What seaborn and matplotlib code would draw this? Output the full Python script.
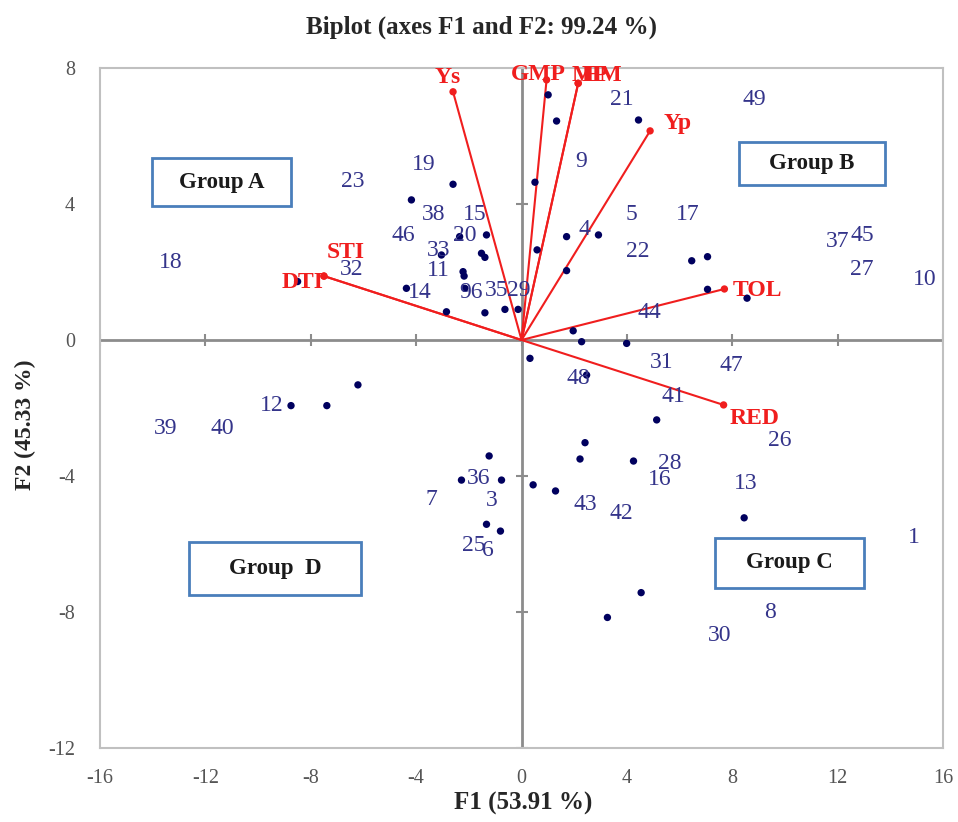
import numpy as np
import pandas as pd
import matplotlib.pyplot as plt
import seaborn as sns
from matplotlib.patches import Rectangle

# observation scores (dots)
obs_x = [1.01, 1.33, 4.44, -2.6, 0.51, -4.18, -1.33, -2.35, 0.59, -1.52,
         -1.39, -3.04, -2.22, -2.18, -8.5, -4.37, -2.15, -2.85, -1.39, -0.63,
         -0.13, 1.71, 2.92, 1.71, 6.46, 7.06, 7.06, 8.56, 1.96, 2.28,
         3.99, 0.32, 2.47, 5.13, 2.41, 2.22, 4.25, -1.23, -2.28, -0.76,
         0.44, 1.29, -1.33, -0.8, 8.45, 4.54, 3.26, -8.75, -7.39, -6.21]
obs_y = [7.21, 6.44, 6.47, 4.58, 4.64, 4.12, 3.09, 3.04, 2.65, 2.55,
         2.43, 2.5, 2.01, 1.88, 1.72, 1.52, 1.52, 0.83, 0.8, 0.9,
         0.9, 3.04, 3.09, 2.04, 2.33, 2.45, 1.49, 1.23, 0.27, -0.05,
         -0.1, -0.54, -1.03, -2.35, -3.02, -3.5, -3.56, -3.41, -4.12, -4.12,
         -4.26, -4.44, -5.42, -5.62, -5.23, -7.43, -8.16, -1.93, -1.93, -1.32]

# genotype labels as they sit on the chart
lab_txt = ['49', '21', '9', '19', '23', '38', '15', '46', '20', '33',
           '11', '32', '18', '14', '96', '35', '29', '5', '17', '4',
           '22', '37', '45', '27', '10', '44', '31', '47', '48', '41',
           '26', '28', '16', '13', '36', '3', '7', '43', '42', '25',
           '6', '1', '8', '30', '39', '40', '12']
lab_x = [8.82, 3.8, 2.28, -3.73, -6.39, -3.35, -1.79, -4.49, -2.17, -3.16,
         -3.16, -6.46, -13.3, -3.88, -1.9, -0.95, -0.1, 4.18, 6.31, 2.4,
         4.41, 11.98, 12.93, 12.93, 15.29, 4.87, 5.32, 7.98, 2.17, 5.78,
         9.81, 5.63, 5.25, 8.52, -1.63, -1.14, -3.42, 2.43, 3.8, -1.83,
         -1.29, 14.9, 9.43, 7.53, -13.5, -11.37, -9.5]
lab_y = [7.06, 7.06, 5.24, 5.15, 4.65, 3.68, 3.68, 3.06, 3.06, 2.62,
         2.03, 2.06, 2.29, 1.41, 1.41, 1.45, 1.45, 3.68, 3.68, 3.26,
         2.59, 2.91, 3.06, 2.06, 1.79, 0.82, -0.65, -0.76, -1.12, -1.65,
         -2.97, -3.62, -4.09, -4.21, -4.06, -4.71, -4.68, -4.85, -5.09, -6.03,
         -6.2, -5.82, -8.0, -8.7, -2.59, -2.59, -1.94]

# variable loadings (red vectors)
var_names = ['Ys', 'GMP', 'MP', 'HM', 'Yp', 'TOL', 'RED', 'STI', 'DTI']
var_x = [-2.6, 0.95, 2.15, 2.15, 4.88, 7.7, 7.67, -7.5, -7.5]
var_y = [7.30, 7.65, 7.55, 7.55, 6.15, 1.5, -1.91, 1.88, 1.88]
var_off = [(-5, 14), (-8, 5), (12, 8), (24, 8), (28, 7), (33, -2), (31, -14), (22, 24), (-21, -6)]

# group boxes: name, x0, x1, y0, y1
group_names = ['Group A', 'Group B', 'Group C', 'Group  D']
group_x0 = [-14.02, 8.25, 7.34, -12.62]
group_x1 = [-8.75, 13.8, 13.0, -6.08]
group_y0 = [3.94, 4.56, -7.29, -7.5]
group_y1 = [5.35, 5.82, -5.82, -5.94]

sns.set_style('white')
plt.rcParams['font.family'] = ['Liberation Serif', 'DejaVu Serif']
plt.rcParams['axes.unicode_minus'] = False

fig = plt.figure(figsize=(9.58, 8.22), dpi=100)
ax = fig.add_axes([0.1044, 0.090, 0.880, 0.8273])

red = '#F01E1E'
navy = '#00005E'
labcol = '#34348A'
grey = '#8C8C8C'

ax.axhline(0, color=grey, lw=2, zorder=1)
ax.axvline(0, color=grey, lw=2, zorder=1)
xt = np.arange(-16, 17, 4)
yt = np.arange(-12, 9, 4)
ax.plot(xt, np.zeros(len(xt)), ls='none', marker='|', ms=9, mew=1.5, color=grey, zorder=1)
ax.plot(np.zeros(len(yt)), yt, ls='none', marker='_', ms=9, mew=1.5, color=grey, zorder=1)

for vx, vy in zip(var_x, var_y):
    ax.plot([0, vx], [0, vy], color=red, lw=1.5, zorder=2)
sns.scatterplot(x=var_x, y=var_y, color=red, s=28, edgecolor='none', ax=ax, zorder=4)
for name, vx, vy, off in zip(var_names, var_x, var_y, var_off):
    ax.annotate(name, (vx, vy), xytext=off, textcoords='offset pixels', ha='center', va='center',
                color=red, fontsize=17, fontweight='bold', zorder=5)

sns.scatterplot(x=obs_x, y=obs_y, color=navy, s=28, edgecolor='none', ax=ax, zorder=3)
for t, lx, ly in zip(lab_txt, lab_x, lab_y):
    ax.text(lx, ly, t, ha='center', va='center', color=labcol, fontsize=17, zorder=3)

for g, x0, x1, y0, y1 in zip(group_names, group_x0, group_x1, group_y0, group_y1):
    ax.add_patch(Rectangle((x0, y0), x1 - x0, y1 - y0, facecolor='white', edgecolor='#4A7EBB', lw=2, zorder=4))
    ax.text((x0 + x1) / 2, (y0 + y1) / 2, g, ha='center', va='center', fontsize=16.5,
            fontweight='bold', color='#1A1A1A', zorder=5)

ax.set_xlim(-16, 16)
ax.set_ylim(-12, 8)
ax.set_xticks(xt)
ax.set_yticks(yt)
ax.tick_params(length=0, labelsize=14.5, labelcolor='#555555')
ax.tick_params(axis='x', pad=15)
ax.tick_params(axis='y', pad=18)
for s in ax.spines.values():
    s.set_color('#C0C0C0')
    s.set_linewidth(1.5)

fig.text(0.503, 0.967, 'Biplot (axes F1 and F2: 99.24 %)', ha='center', va='center', fontsize=18, fontweight='bold')
fig.text(0.546, 0.023, 'F1 (53.91 %)', ha='center', va='center', fontsize=18, fontweight='bold')
fig.text(0.027, 0.483, 'F2 (45.33 %)', ha='center', va='center', rotation=90, fontsize=17, fontweight='bold')

fig.savefig('out.png', dpi=100)
